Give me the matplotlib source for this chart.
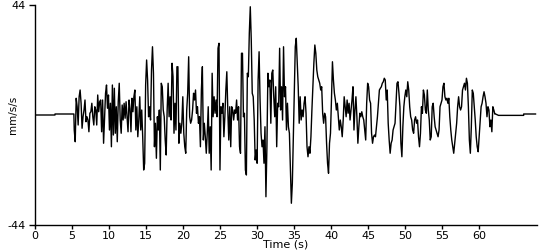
import numpy as np
import matplotlib
matplotlib.use("Agg")
import matplotlib.pyplot as plt

# quiet segment before the event: (time, value)
pre_t = [0.0, 2.7, 2.7, 5.25]
pre_v = [0.0, 0.0, 0.4, 0.4]

# recorded signal, sampled uniformly from sig_start to sig_end (mm/s/s)
sig_start = 5.3
sig_end = 62.1
signal = [
    -6, -10.7, 6.7, 3.3, -4, 7.3, 10, 4.7, -5.3, -0.7,
    2, 6, -2.7, -0.7, -2, -6.7, 0.7, 1.3, 4.7, -0.7,
    -4, 3.3, 2, -4, 8, 1.3, 5.3, 6, -6.7, 6,
    -11.3, -0.7, 8.7, 12, 2.7, 8, -6, 4.7, -12.7, 12,
    -8, 10.7, -7.3, 3.3, -10.7, 5.3, 12.7, -2, -7.3, 4,
    -2, 4.7, -1.3, 5.3, -0.7, -6.7, 6, 2.7, -6.7, 6.7,
    1.3,
    7.3, 10, -6, 3.3, -8.7, -2, 7.3, -6, 2, -8.7,
    -22, -19.3, 12, 22, 14, -0.7, 3.3, -2, 18, 27.3,
    16.7, -12.7, -3.3, -17.3, -0.7, -6, 2, -22, 12.7, 11.3,
    2, -0.7, -10, -16, 2, 12.7, -0.7, 7.3, -2, 20.7,
    15.3, -7.3, 4.7, -6, 19.3, 19.3, -11.3, -3.3, -7.3, -3.3,
    7.3, -7.3, -12.7, -15.3, 2, 8.7, 23.3, -0.7, -3.3, -2,
    2, 8.7, 6, 10, 0.7, 3.3, -3.3, -0.7, -12.7, 10,
    19.3, -10, -3.3, -8.7, -15.3,
    -7.3, 3.3, -15.3, -4.7, -22, 16.7, -0.7, 7.3, 0.7, 6,
    -0.7, 26.7, 28.7, -22, 3.3, 0.7, 4.7, -8.7, -0.7, 10,
    17.3, 2, -10, 3.3, -12.7, 3.3, 2, -2, 2, 0.7,
    6, -2, 3.3, -12.7, -15.3, 24.7, 24.7, -0.7, 0.7, -22,
    -24, 16.7, 15.3, 32.7, 43.3, 30, 8.7, 7.3, -2, -18,
    -14, -19.3, 14, 25.3, 6, -7.3, -12.7, -10, -19.3, -4.7,
    -32.7, -12.7, 16.7, 11.3, 14, -3.3, 16.7, 18, 7.3, -0.7,
    11.3, -12.7, 4.7, 3.3, 26.7,
    2, 11.3, -2, 27.3, 7.3, 11.3, -6, 4.7, -4.7, -7.3,
    -22, -35.3, -27.3, -8.7, 11.3, 27.3, 30.7, 20.7, 11.3, -3.3,
    7.3, -2, 2, -0.7, 4.7, 7.3, 0.7, -12.7, -16.7, -12.7,
    -15.3, -8.7, 2, 11.3, 20.7, 28, 24.7, 18, 15.3, 14,
    12.7, 10, 11.3, 0.7, -3.3, 0.7, -0.7, -11.3, -19.3, -23.3,
    -11.3, -7.3, 6, 21.3, 14, 8.7, 6, 2, 4.7, -0.7,
    -6, -2, -4.7, -8.7, -2, 7.3, 3.3, -0.7, 6, 0.7,
    4.7, -2, 2, 6, 11.3,
    -6, 2, 7.3, -0.7, -11.3, -4.7, 0.7, -0.7, 1.3, -0.7,
    -2, -6, -10, 4.7, 12.7, 11.3, 6, 4.7, -7.3, -11.3,
    -8.7, -8, -8.7, -4.7, -0.7, 4.7, 10, 10.7, 11.3, 12.7,
    13.3, 14.7, 14, 6, 10, -3.3, -10, -15.3, -11.3, -10,
    -6, -4.7, -3.3, 4.7, 12.7, 13.3, 8.7, 3.3, -11.3, -16.7,
    -4.7, 3.3, 7.3, 10, 7.3, 13.3, 10, 3.3, -0.7, -2,
    -6, -7.3, -2, -0.7, -3.3, -2, -8.7, -12.7, -7.3, 3.3,
    0.7, 10, 8, 2, 0.7,
    10, 2, -2, -10, -8.7, 3.3, 4.7, -0.7, -4.7, -6,
    -7.3, -8.7, -6, 3.3, 4.7, 6, 11.3, 12.7, 7.3, 6,
    6.7, 4.7, 6.7, -0.7, -6, -10, -12.7, -15.3, -11.3, -7.3,
    -3.3, 3.3, 7.3, 3.3, 2, 3.3, 10, 11.3, 12.7, 10,
    14.7, 12.7, 3.3, -10, -15.3, -4.7, 10, 8.7, 3.3, -2,
    -8.7, -12.7, -14.7, -8.7, -3.3, 3.3, 4.7, 7.3, 9.3, 7.3,
    4.7, -0.7, 3.3, 2, -4.7, -2, -6.7, 3.3, 2, 0.4,
]

# quiet segment after the event
post_t = [62.2, 62.6, 66.0, 66.0, 67.6]
post_v = [0.4, -0.15, -0.15, 0.4, 0.4]

x_ticks = [0, 5, 10, 15, 20, 25, 30, 35, 40, 45, 50, 55, 60]
y_ticks = [-44, 44]

sig_t = np.linspace(sig_start, sig_end, len(signal))
t = np.concatenate([pre_t, sig_t, post_t])
v = np.concatenate([pre_v, signal, post_v])

fig = plt.figure(figsize=(5.5, 2.5), dpi=100)
ax = fig.add_axes([35 / 550, 25 / 250, 502 / 550, 220 / 250])
ax.plot(t, v, color="black", linewidth=1.0)

ax.set_xlim(0, 67.8)
ax.set_ylim(-44, 44)
ax.set_xticks(x_ticks)
ax.set_xticklabels([str(x) for x in x_ticks])
ax.set_yticks(y_ticks)
ax.set_yticklabels([str(y) for y in y_ticks])
for s in ("top", "right"):
    ax.spines[s].set_visible(False)
for s in ("left", "bottom"):
    ax.spines[s].set_linewidth(1.0)
    ax.spines[s].set_color("black")
ax.tick_params(axis="x", direction="out", length=3, width=1, labelsize=8, pad=1)
ax.tick_params(axis="y", direction="out", length=4, width=1, labelsize=8, pad=3)
ax.set_xlabel("Time (s)", fontsize=8, labelpad=-1)
fig.text(13 / 550, 1 - 115 / 250, "mm/s/s", rotation=90, fontsize=7.5,
         ha="center", va="center")

fig.savefig("out.png", dpi=100)
